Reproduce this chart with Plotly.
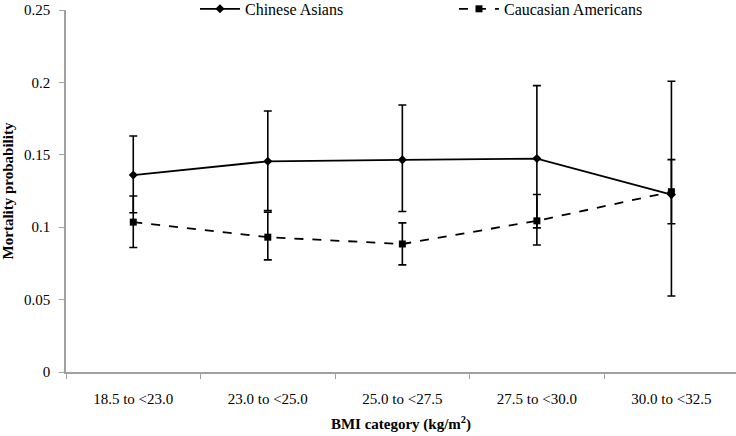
import plotly.graph_objects as go

categories = ["18.5 to <23.0", "23.0 to <25.0", "25.0 to <27.5", "27.5 to <30.0", "30.0 to <32.5"]

chinese = [0.136, 0.1455, 0.1465, 0.1474, 0.1225]
chinese_upper = [0.163, 0.1803, 0.1844, 0.1978, 0.2008]
chinese_lower = [0.1100, 0.1115, 0.1108, 0.0995, 0.0525]

caucasian = [0.1035, 0.0931, 0.0884, 0.1044, 0.1245]
caucasian_upper = [0.1215, 0.1104, 0.1030, 0.1226, 0.1467]
caucasian_lower = [0.0860, 0.0774, 0.0740, 0.0877, 0.1024]

y_ticks = [0, 0.05, 0.1, 0.15, 0.2, 0.25]
y_tick_labels = ["0", "0.05", "0.1", "0.15", "0.2", "0.25"]

def plus(v, u):
    return [b - a for a, b in zip(v, u)]

def minus(v, l):
    return [a - b for a, b in zip(v, l)]

font_family = "Liberation Serif, Times New Roman, serif"

fig = go.Figure()
fig.add_trace(go.Scatter(
    x=categories, y=chinese, name="Chinese Asians",
    mode="lines+markers",
    line=dict(color="black", width=1.8),
    marker=dict(symbol="diamond", size=7, color="black"),
    error_y=dict(type="data", symmetric=False,
                 array=plus(chinese, chinese_upper),
                 arrayminus=minus(chinese, chinese_lower),
                 color="black", thickness=1.6, width=4),
))
fig.add_trace(go.Scatter(
    x=categories, y=caucasian, name="Caucasian Americans",
    mode="lines+markers",
    line=dict(color="black", width=1.8, dash="dash"),
    marker=dict(symbol="square", size=7, color="black"),
    error_y=dict(type="data", symmetric=False,
                 array=plus(caucasian, caucasian_upper),
                 arrayminus=minus(caucasian, caucasian_lower),
                 color="black", thickness=1.6, width=4),
))

fig.update_layout(
    width=736, height=436,
    margin=dict(l=66, r=0, t=10, b=64, autoexpand=False),
    paper_bgcolor="white", plot_bgcolor="white",
    font=dict(family=font_family, size=15, color="black"),
    showlegend=True,
    legend=dict(orientation="h", x=0.1925, xanchor="left",
                y=1.003, yanchor="middle",
                font=dict(size=16), entrywidth=204, itemwidth=40,
                bgcolor="rgba(0,0,0,0)"),
    xaxis=dict(
        type="category", range=[-0.5, 4.48], automargin=False,
        tickson="boundaries", ticks="outside", ticklen=5, tickcolor="#a0a0a0",
        showline=True, linecolor="#a0a0a0", linewidth=1.5,
        showgrid=False, zeroline=False,
        tickfont=dict(size=15), ticklabelstandoff=12,
        title=dict(text="<b>BMI category (kg/m<sup>2</sup>)</b>", font=dict(size=15), standoff=13),
    ),
    yaxis=dict(
        range=[0, 0.25], automargin=False,
        ticks="outside", ticklen=5, tickcolor="#a0a0a0",
        showline=True, linecolor="#a0a0a0", linewidth=1.5,
        showgrid=False, zeroline=False,
        tickfont=dict(size=15), ticklabelstandoff=6,
        title=dict(text="<b>Mortality probability</b>", font=dict(size=15), standoff=8),
        tickvals=y_ticks, ticktext=y_tick_labels,
    ),
)

fig.write_html("out.html", config={"displayModeBar": False},
               post_script="document.body.style.margin='0';")
